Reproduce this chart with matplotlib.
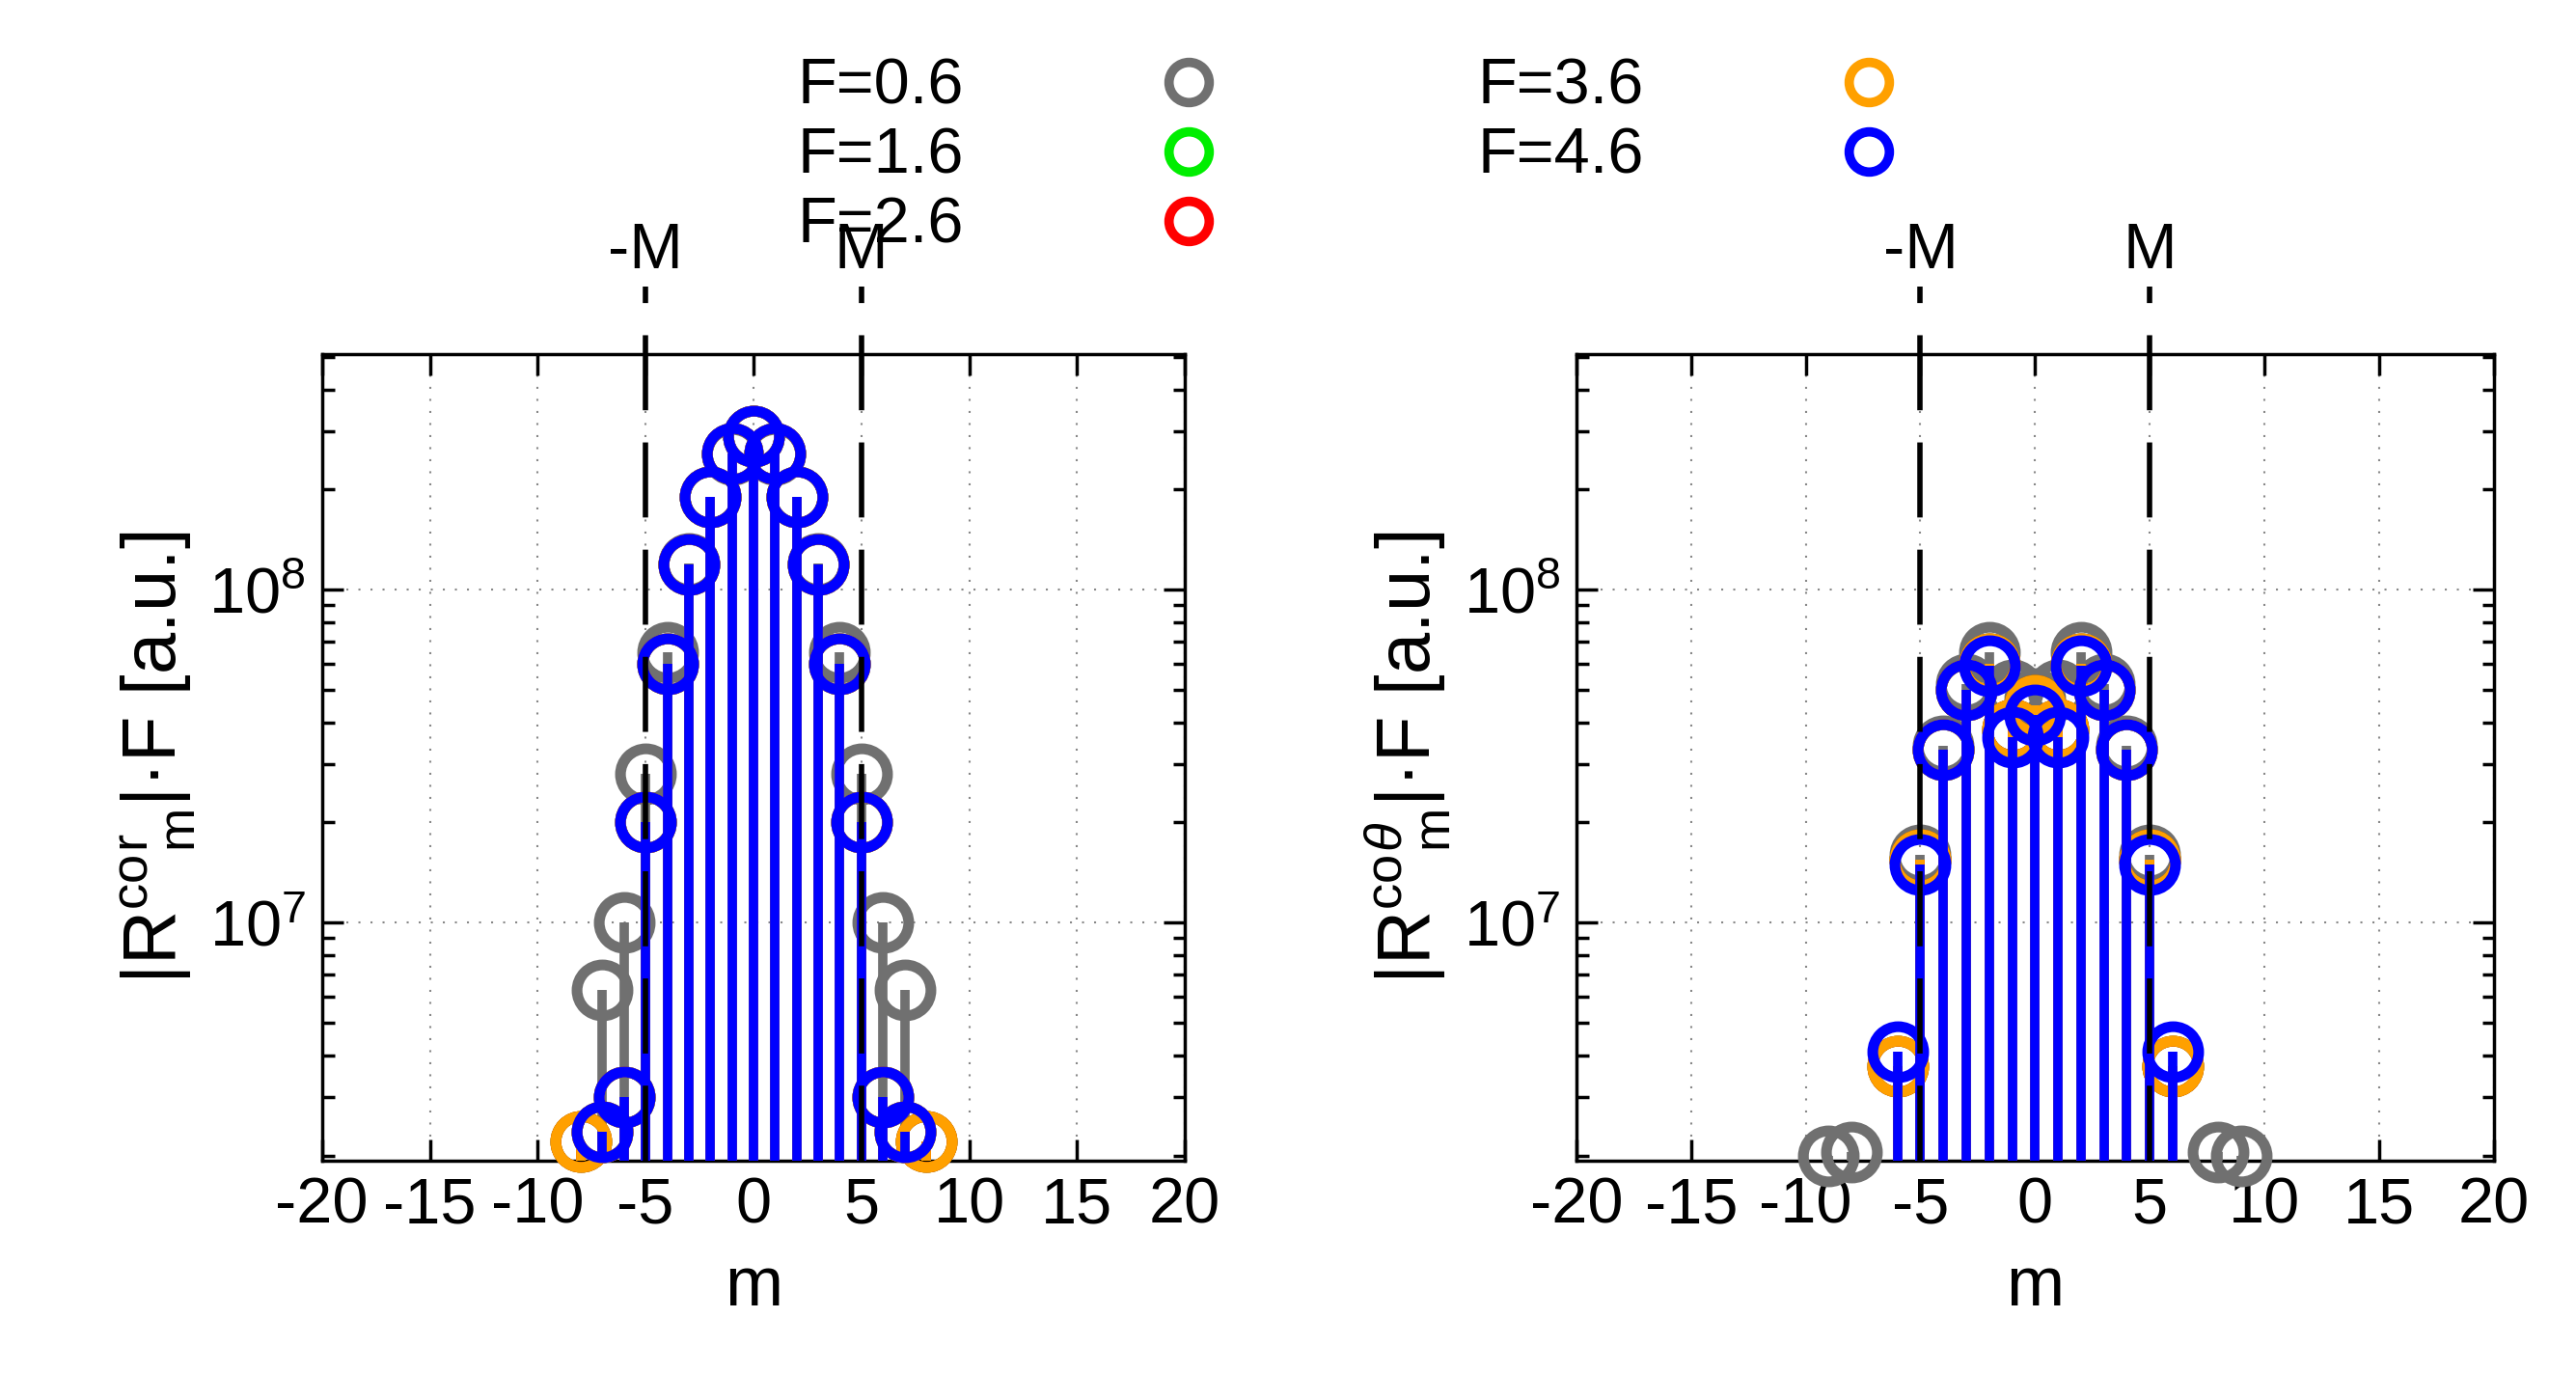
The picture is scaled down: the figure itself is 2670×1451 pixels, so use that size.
import matplotlib
matplotlib.use("Agg")
import matplotlib.pyplot as plt
import numpy as np

plt.rcParams['font.family'] = 'Liberation Sans'
plt.rcParams['mathtext.fontset'] = 'custom'
plt.rcParams['mathtext.rm'] = 'Liberation Sans'
plt.rcParams['mathtext.it'] = 'Liberation Sans:italic'
plt.rcParams['axes.unicode_minus'] = False

labels = ["F=0.6", "F=1.6", "F=2.6", "F=3.6", "F=4.6"]
colors = ["#707070", "#00ee00", "#ff0000", "#ffa000", "#0000ff"]

# left panel (r component)
mL_gray = [-7, -6, -5, -4, -3, -2, -1, 0, 1, 2, 3, 4, 5, 6, 7]
vL_gray = [6.3e6, 1.0e7, 2.8e7, 6.5e7, 1.2e8, 1.9e8, 2.55e8, 2.9e8, 2.55e8, 1.9e8, 1.2e8, 6.5e7, 2.8e7, 1.0e7, 6.3e6]
mL = [-8, -7, -6, -5, -4, -3, -2, -1, 0, 1, 2, 3, 4, 5, 6, 7, 8]
vL_other = [2.2e6, 2.35e6, 3.0e6, 2.0e7, 6.0e7, 1.19e8, 1.9e8, 2.56e8, 2.9e8, 2.56e8, 1.9e8, 1.19e8, 6.0e7, 2.0e7, 3.0e6, 2.35e6, 2.2e6]
mL_blue = [-7, -6, -5, -4, -3, -2, -1, 0, 1, 2, 3, 4, 5, 6, 7]
vL_blue = [2.35e6, 3.0e6, 2.0e7, 6.0e7, 1.19e8, 1.9e8, 2.56e8, 2.9e8, 2.56e8, 1.9e8, 1.19e8, 6.0e7, 2.0e7, 3.0e6, 2.35e6]

# right panel (theta component)
mR_gray = [-9, -8, -5, -4, -3, -2, -1, 0, 1, 2, 3, 4, 5, 8, 9]
vR_gray = [2.0e6, 2.05e6, 1.6e7, 3.4e7, 5.2e7, 6.5e7, 5.0e7, 4.7e7, 5.0e7, 6.5e7, 5.2e7, 3.4e7, 1.6e7, 2.05e6, 2.0e6]
mR = [-6, -5, -4, -3, -2, -1, 0, 1, 2, 3, 4, 5, 6]
vR_other = [3.7e6, 1.55e7, 3.3e7, 5.0e7, 6.0e7, 3.8e7, 4.5e7, 3.8e7, 6.0e7, 5.0e7, 3.3e7, 1.55e7, 3.7e6]
vR_blue = [4.1e6, 1.5e7, 3.3e7, 5.0e7, 5.9e7, 3.6e7, 4.2e7, 3.6e7, 5.9e7, 5.0e7, 3.3e7, 1.5e7, 4.1e6]

M = 5
ylo, yhi = 1.93e6, 5.1e8

fig = plt.figure(figsize=(26.7, 14.51), dpi=100)
axL = fig.add_axes([0.125, 0.171, 0.335, 0.576])
axR = fig.add_axes([0.612, 0.171, 0.356, 0.576])

def stems(ax, m, v, c, z):
    m = np.array(m); v = np.array(v)
    ax.vlines(m, ylo, v, colors=c, lw=7, zorder=z)
    ax.plot(m, v, 'o', ms=38, mfc='none', mec=c, mew=8, zorder=z + 0.5, clip_on=False)

seriesL = [(mL_gray, vL_gray), (mL, vL_other), (mL, vL_other), (mL, vL_other), (mL_blue, vL_blue)]
seriesR = [(mR_gray, vR_gray), (mR, vR_other), (mR, vR_other), (mR, vR_other), (mR, vR_blue)]

for ax, ser, lab in [(axL, seriesL, r'|R$^{\mathrm{co}}$$^{\mathrm{r}}_{\mathrm{m}}$|·F [a.u.]'),
                     (axR, seriesR, r'|R$^{\mathrm{co}}$$^{\theta}_{\mathrm{m}}$|·F [a.u.]')]:
    for i, (m, v) in enumerate(ser):
        stems(ax, m, v, colors[i], 3 + i)
    ax.set_yscale('log')
    ax.set_ylim(ylo, yhi)
    ax.set_xlim(-20, 20)
    ax.set_xticks(np.arange(-20, 21, 5))
    ax.set_yticks([1e7, 1e8])
    ax.set_yticklabels([r'$10^7$', r'$10^8$'])
    ax.grid(True, which='major', ls=(0, (1, 5)), color='#888888', lw=1.5)
    ax.tick_params(which='both', direction='in', top=True, right=True, labelsize=48, width=2.5)
    ax.tick_params(which='major', length=16, pad=12)
    ax.tick_params(which='minor', length=9)
    ax.set_xlabel('m', fontsize=52, labelpad=14)
    ax.set_ylabel(lab, fontsize=56, labelpad=8)
    for s in ax.spines.values():
        s.set_linewidth(2.5)
    for x, t in [(-M, '-M'), (M, 'M')]:
        ax.plot([x, x], [ylo, yhi * 1.6], color='black', lw=4, dashes=(14, 6), zorder=20, clip_on=False)
        ax.text(x, yhi * 1.65, t, ha='center', va='bottom', fontsize=48)

handles = [plt.Line2D([], [], ls='none', marker='o', ms=30, mfc='none', mec=c, mew=7) for c in colors]
fig.legend(handles, labels, ncol=2, markerfirst=False, frameon=False, fontsize=48,
           loc='upper center', bbox_to_anchor=(0.53, 1.0), handletextpad=2.5,
           columnspacing=3.5, labelspacing=0.15)

fig.savefig('out.png', dpi=100)
